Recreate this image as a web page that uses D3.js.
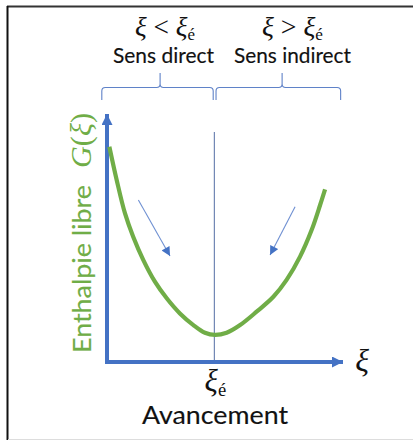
<!DOCTYPE html>
<html>
<head>
<meta charset="utf-8">
<script src="https://cdn.jsdelivr.net/npm/d3@7"></script>
<style>
  html, body { margin: 0; padding: 0; background: #fff; }
  svg { display: block; }
</style>
</head>
<body>
<svg id="chart" width="413" height="441"></svg>
<script>
// Advancement ξ (arbitrary units) and free enthalpy G(ξ) along the curve
const xiValues = [0.1, 0.41, 0.76, 1.11, 1.54, 2.03, 2.53, 3.09, 3.66, 4.15, 4.58, 5.07, 5.64, 6.34, 7.05, 7.61, 8.18, 8.67, 9.03, 9.24];
const gValues  = [8.68, 7.34, 6.0, 5.05, 4.11, 3.24, 2.57, 1.96, 1.49, 1.18, 1.09, 1.18, 1.49, 2.03, 2.63, 3.31, 4.25, 5.32, 6.33, 6.96];

// Equilibrium advancement and the top of its marker line
const xiEq = 4.55;
const eqLineTop = 9.27;

// Evolution arrows: start and end points (ξ, G)
const arrowStarts = [[1.33, 6.53], [7.97, 6.26]];
const arrowEnds   = [[2.67, 4.27], [6.91, 4.31]];

// Regions above the plot: extent, brace tip, labels
const regionStart = [-0.22, 4.62];
const regionEnd   = [4.5, 9.9];
const regionTip   = [2.25, 7.42];
const regionSign  = ["<", ">"];
const regionLabel = ["Sens direct", "Sens indirect"];

const axisMax = 10;
const xLabel = "Avancement";
const yLabel = "Enthalpie libre";

const svg = d3.select("#chart");
const blue = "#4472c4";
const green = "#70ad47";

const x = d3.scaleLinear().domain([0, axisMax]).range([107, 343]);
const y = d3.scaleLinear().domain([0, axisMax]).range([362, 114]);

// Frame
svg.append("line").attr("x1", 7).attr("x2", 413).attr("y1", 6.5).attr("y2", 6.5)
  .attr("stroke", "#333").attr("stroke-width", 2);
svg.append("line").attr("x1", 7.5).attr("x2", 7.5).attr("y1", 6).attr("y2", 440)
  .attr("stroke", "#111").attr("stroke-width", 2);
svg.append("line").attr("x1", 8).attr("x2", 413).attr("y1", 439.5).attr("y2", 439.5)
  .attr("stroke", "#ddd").attr("stroke-width", 1);

// Arrowhead markers
const defs = svg.append("defs");
defs.append("marker").attr("id", "axisHead")
  .attr("viewBox", "0 0 10 10").attr("refX", 10).attr("refY", 5)
  .attr("markerWidth", 11).attr("markerHeight", 11).attr("markerUnits", "userSpaceOnUse")
  .attr("orient", "auto")
  .append("path").attr("d", "M0,0 L10,5 L0,10 Z").attr("fill", blue);
defs.append("marker").attr("id", "smallHead")
  .attr("viewBox", "0 0 10 10").attr("refX", 10).attr("refY", 5)
  .attr("markerWidth", 10).attr("markerHeight", 9).attr("markerUnits", "userSpaceOnUse")
  .attr("orient", "auto")
  .append("path").attr("d", "M0,0 L10,5 L0,10 Z").attr("fill", blue);

// Equilibrium marker line
svg.append("line")
  .attr("x1", x(xiEq)).attr("x2", x(xiEq))
  .attr("y1", y(eqLineTop)).attr("y2", y(0))
  .attr("stroke", "#7086b4").attr("stroke-width", 1.2);

// Axes
svg.append("line")
  .attr("x1", x(0)).attr("x2", x(0)).attr("y1", y(0) + 2).attr("y2", y(axisMax))
  .attr("stroke", blue).attr("stroke-width", 4).attr("marker-end", "url(#axisHead)");
svg.append("line")
  .attr("x1", x(0) - 2).attr("x2", x(axisMax)).attr("y1", y(0)).attr("y2", y(0))
  .attr("stroke", blue).attr("stroke-width", 4).attr("marker-end", "url(#axisHead)");

// G(ξ) curve
const pts = xiValues.map((v, i) => [v, gValues[i]]);
svg.append("path")
  .datum(pts)
  .attr("d", d3.line().x(d => x(d[0])).y(d => y(d[1])).curve(d3.curveCatmullRom.alpha(0.5)))
  .attr("fill", "none").attr("stroke", green).attr("stroke-width", 4.2);

// Evolution arrows
arrowStarts.forEach((s, i) => {
  const e = arrowEnds[i];
  svg.append("line")
    .attr("x1", x(s[0])).attr("y1", y(s[1]))
    .attr("x2", x(e[0])).attr("y2", y(e[1]))
    .attr("stroke", "#6f90d2").attr("stroke-width", 1.1)
    .attr("marker-end", "url(#smallHead)");
});

// Braces over each region
const braceBase = 100, braceY = 87.5, braceTop = 73, r = 3.5;
function bracePath(a, b, m) {
  const xa = x(a), xb = x(b), xm = x(m);
  return `M${xa},${braceBase} L${xa},${braceY + r} Q${xa},${braceY} ${xa + r},${braceY}` +
    ` L${xm - r},${braceY} Q${xm},${braceY} ${xm},${braceY - r} L${xm},${braceTop}` +
    ` M${xm},${braceY - r} Q${xm},${braceY} ${xm + r},${braceY} L${xb - r},${braceY}` +
    ` Q${xb},${braceY} ${xb},${braceY + r} L${xb},${braceBase}`;
}
regionStart.forEach((a, i) => {
  svg.append("path")
    .attr("d", bracePath(a, regionEnd[i], regionTip[i]))
    .attr("fill", "none").attr("stroke", "#5f82c8").attr("stroke-width", 1.1);
});

// Fit a text element's advance to a target width by scaling its font size
function fit(sel, w) {
  const len = sel.node().getComputedTextLength();
  const fs = parseFloat(sel.attr("font-size"));
  sel.attr("font-size", fs * w / len);
  return sel;
}

const serif = "'Liberation Serif', 'DejaVu Serif', serif";
const sans = "Lato, 'Open Sans', sans-serif";

// Sans text set at a given size and squeezed to a given width
function sansText(xp, yp, size, width, color, str, transform) {
  const t = svg.append("text")
    .attr("font-family", sans).attr("font-size", size)
    .attr("fill", color).attr("stroke", color).attr("stroke-width", 0.15)
    .attr("textLength", width).attr("lengthAdjust", "spacingAndGlyphs")
    .text(str);
  if (transform) t.attr("transform", transform);
  else t.attr("x", xp).attr("y", yp);
  return t;
}

// Region labels
const labelCenters = [165, 292.5];
const signWidths = [60, 61];
const wordLeft = [113, 234];
const wordWidths = [101, 117];
regionSign.forEach((sgn, i) => {
  const t = svg.append("text")
    .attr("x", labelCenters[i]).attr("y", 36)
    .attr("text-anchor", "middle")
    .attr("font-family", serif).attr("font-size", 22).attr("fill", "#111");
  t.append("tspan").attr("font-style", "italic").text("ξ");
  t.append("tspan").text(" " + sgn + " ");
  t.append("tspan").attr("font-style", "italic").text("ξ");
  t.append("tspan").attr("font-size", "0.62em").attr("dy", 4).text("é");
  fit(t, signWidths[i]);

  sansText(wordLeft[i], 63, 20.5, wordWidths[i], "#111", regionLabel[i]);
});

// Y-axis title (rotated)
sansText(0, 0, 25.5, 168, green, yLabel, `translate(91,353) rotate(-90)`);
const gt = svg.append("text")
  .attr("transform", `translate(91,168) rotate(-90)`)
  .attr("font-family", serif).attr("font-size", 28).attr("fill", green);
gt.append("tspan").attr("font-style", "italic").text("G");
gt.append("tspan").text("(");
gt.append("tspan").attr("font-style", "italic").text("ξ");
gt.append("tspan").text(")");
fit(gt, 55);

// X-axis symbol
svg.append("text")
  .attr("x", x(axisMax) + 19).attr("y", 371)
  .attr("text-anchor", "middle")
  .attr("font-family", serif).attr("font-style", "italic").attr("font-size", 32).attr("fill", "#111")
  .text("ξ");

// Equilibrium tick label
const eq = svg.append("text")
  .attr("x", x(xiEq) + 1).attr("y", 391)
  .attr("text-anchor", "middle")
  .attr("font-family", serif).attr("font-size", 31).attr("fill", "#111");
eq.append("tspan").attr("font-style", "italic").text("ξ");
eq.append("tspan").attr("font-size", "0.6em").attr("dy", 5).text("é");

// X-axis title
sansText(142, 424, 25.5, 146, "#111", xLabel);
</script>
</body>
</html>
